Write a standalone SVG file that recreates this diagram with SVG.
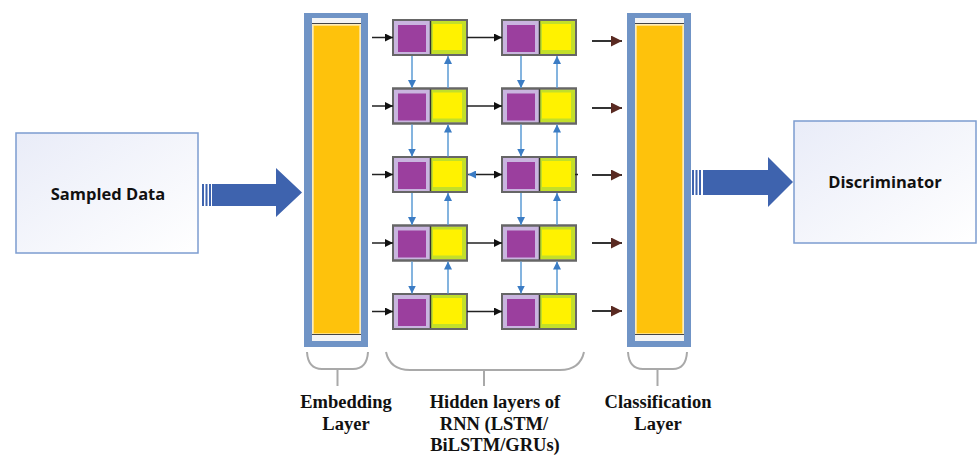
<svg xmlns="http://www.w3.org/2000/svg" width="979" height="457" viewBox="0 0 979 457">
<style>
.box{fill:url(#boxg);stroke:#7C9CD0;stroke-width:1.5}
.btxt{font-family:"Open Sans","Liberation Sans",sans-serif;font-weight:bold;font-size:16.5px;fill:#111;text-anchor:middle}
.big{fill:#3E63AE}
.lay-out{fill:#7094C6}
.lay-wh{fill:#F4F4F4}
.lay-y{fill:#FEC20C;stroke:#FFE9A6;stroke-width:1.5}
.lay-ln{stroke:#444;stroke-width:1.2}
.cell{fill:#C9B5DF;stroke:#666;stroke-width:2}
.ybg{fill:#C2DF2A}
.pin{fill:#9B3F9E}
.yin{fill:#FFF200}
.div{stroke:#333;stroke-width:1.5}
.ha{stroke:#222;stroke-width:1.5;fill:none;marker-end:url(#mk)}
.oa{stroke:#333;stroke-width:2;fill:none;marker-end:url(#mo)}
.va{stroke:#5B9BD5;stroke-width:1.5;fill:none;marker-end:url(#mb)}
.br{stroke:#A9A9A9;stroke-width:2;fill:none}
.lbl{font-family:"Liberation Serif","Times New Roman",serif;font-weight:bold;font-size:18.5px;fill:#111;text-anchor:middle}
</style>
<defs>
<linearGradient id="boxg" x1="0" y1="0" x2="1" y2="1">
<stop offset="0" stop-color="#E9ECF8"/>
<stop offset="1" stop-color="#FFFFFF"/>
</linearGradient>
<marker id="mk" viewBox="0 0 8 8" refX="8" refY="4" markerWidth="8" markerHeight="8" markerUnits="userSpaceOnUse" orient="auto">
<path d="M0,0 L8,4 L0,8 Z" fill="#111"/>
</marker>
<marker id="mo" viewBox="0 0 8 8" refX="8" refY="4" markerWidth="11" markerHeight="11" markerUnits="userSpaceOnUse" orient="auto">
<path d="M0,0 L8,4 L0,8 Z" fill="#5A2A22"/>
</marker>
<marker id="mb" viewBox="0 0 8 8" refX="8" refY="4" markerWidth="8" markerHeight="8" markerUnits="userSpaceOnUse" orient="auto">
<path d="M0,0 L8,4 L0,8 Z" fill="#3B7CC4"/>
</marker>
<marker id="mbs" viewBox="0 0 8 8" refX="0" refY="4" markerWidth="8" markerHeight="8" markerUnits="userSpaceOnUse" orient="auto">
<path d="M8,0 L0,4 L8,8 Z" fill="#3B7CC4"/>
</marker>
<g id="cellproto">
<rect class="cell" x="0" y="0" width="74" height="35"/>
<rect class="ybg" x="38" y="1" width="35" height="33"/>
<rect class="pin" x="5" y="5" width="28" height="27"/>
<rect class="yin" x="40" y="4" width="29" height="26"/>
<line class="div" x1="37.5" y1="0" x2="37.5" y2="35"/>
<rect x="0" y="0" width="74" height="35" fill="none" stroke="#666" stroke-width="2"/>
</g>
</defs>
<rect width="979" height="457" fill="#FFFFFF"/>

<g id="sampled-data">
<rect class="box" x="16" y="133" width="182" height="120"/>
<text class="btxt" x="108" y="200">Sampled Data</text>
</g>

<g id="embedding-layer">
<rect class="lay-out" x="304" y="13" width="64" height="334"/>
<rect class="lay-wh" x="312" y="18" width="49" height="323"/>
<rect class="lay-y" x="313" y="25" width="47" height="309"/>
<line class="lay-ln" x1="312" y1="23.5" x2="361" y2="23.5"/>
<line class="lay-ln" x1="312" y1="334.5" x2="361" y2="334.5"/>
</g>

<g id="classification-layer">
<rect class="lay-out" x="627" y="13" width="64" height="334"/>
<rect class="lay-wh" x="635" y="18" width="49" height="323"/>
<rect class="lay-y" x="636" y="25" width="47" height="309"/>
<line class="lay-ln" x1="635" y1="23.5" x2="684" y2="23.5"/>
<line class="lay-ln" x1="635" y1="334.5" x2="684" y2="334.5"/>
</g>

<g id="discriminator">
<rect class="box" x="794" y="121" width="182" height="122"/>
<text class="btxt" x="885" y="188">Discriminator</text>
</g>

<g id="rnn-cells">
<use href="#cellproto" x="393" y="20"/>
<use href="#cellproto" x="502" y="20"/>
<use href="#cellproto" x="393" y="88.5"/>
<use href="#cellproto" x="502" y="88.5"/>
<use href="#cellproto" x="393" y="157"/>
<use href="#cellproto" x="502" y="157"/>
<use href="#cellproto" x="393" y="225.5"/>
<use href="#cellproto" x="502" y="225.5"/>
<use href="#cellproto" x="393" y="294"/>
<use href="#cellproto" x="502" y="294"/>
</g>

<g id="connectors">
<path class="big" d="M212,184 H276 V168 L302,192.5 L276,217 V206 H212 Z"/>
<rect class="big" x="202" y="184" width="2" height="22"/>
<rect class="big" x="205.5" y="184" width="2" height="22"/>
<rect class="big" x="209" y="184" width="2" height="22"/>
<path class="big" d="M703,170 H768 V157 L793,182 L768,207 V195 H703 Z"/>
<rect class="big" x="692" y="170" width="2" height="25"/>
<rect class="big" x="695.5" y="170" width="2" height="25"/>
<rect class="big" x="699" y="170" width="2" height="25"/>

<line class="ha" x1="372" y1="37.5" x2="393" y2="37.5"/>
<line class="ha" x1="372" y1="106" x2="393" y2="106"/>
<line class="ha" x1="372" y1="174.5" x2="393" y2="174.5"/>
<line class="ha" x1="372" y1="243" x2="393" y2="243"/>
<line class="ha" x1="372" y1="311.5" x2="393" y2="311.5"/>

<line class="ha" x1="467" y1="37.5" x2="502" y2="37.5"/>
<line class="ha" x1="467" y1="106" x2="502" y2="106"/>
<line class="ha" x1="468" y1="174.5" x2="502" y2="174.5" marker-start="url(#mbs)"/>
<line class="ha" x1="467" y1="243" x2="502" y2="243"/>
<line class="ha" x1="467" y1="311.5" x2="502" y2="311.5"/>
<line x1="575" y1="174.5" x2="578" y2="174.5" stroke="#222" stroke-width="1.5"/>

<line class="oa" x1="592" y1="41" x2="622" y2="41"/>
<line class="oa" x1="592" y1="108" x2="622" y2="108"/>
<line class="oa" x1="592" y1="175" x2="622" y2="175"/>
<line class="oa" x1="592" y1="243" x2="622" y2="243"/>
<line class="oa" x1="592" y1="311" x2="622" y2="311"/>

<line class="va" x1="412" y1="56" x2="412" y2="88"/>
<line class="va" x1="448" y1="88" x2="448" y2="56"/>
<line class="va" x1="521" y1="56" x2="521" y2="88"/>
<line class="va" x1="557" y1="88" x2="557" y2="56"/>
<line class="va" x1="412" y1="124.5" x2="412" y2="156.5"/>
<line class="va" x1="448" y1="156.5" x2="448" y2="124.5"/>
<line class="va" x1="521" y1="124.5" x2="521" y2="156.5"/>
<line class="va" x1="557" y1="156.5" x2="557" y2="124.5"/>
<line class="va" x1="412" y1="193" x2="412" y2="225"/>
<line class="va" x1="448" y1="225" x2="448" y2="193"/>
<line class="va" x1="521" y1="193" x2="521" y2="225"/>
<line class="va" x1="557" y1="225" x2="557" y2="193"/>
<line class="va" x1="412" y1="261.5" x2="412" y2="293.5"/>
<line class="va" x1="448" y1="293.5" x2="448" y2="261.5"/>
<line class="va" x1="521" y1="261.5" x2="521" y2="293.5"/>
<line class="va" x1="557" y1="293.5" x2="557" y2="261.5"/>
</g>

<g id="brackets">
<path class="br" d="M307,352 Q308,369 322,369 H353 Q367,369 368,352 M337.5,369 V386"/>
<path class="br" d="M386,352 Q390,370 410,370 H560 Q580,370 584,352 M484,370 V386"/>
<path class="br" d="M628,352 Q629,369 643,369 H673 Q686,369 687,352 M657.5,369 V386"/>
</g>

<g id="labels">
<text class="lbl" x="346" y="408">Embedding</text>
<text class="lbl" x="346" y="430">Layer</text>
<text class="lbl" x="495" y="408">Hidden layers of</text>
<text class="lbl" x="494" y="430">RNN (LSTM/</text>
<text class="lbl" x="495" y="451">BiLSTM/GRUs)</text>
<text class="lbl" x="658" y="408">Classification</text>
<text class="lbl" x="658" y="430">Layer</text>
</g>
</svg>
